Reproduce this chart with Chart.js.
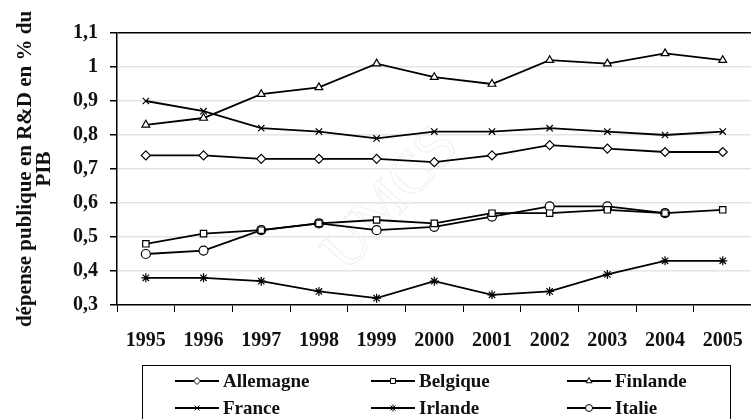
<!DOCTYPE html>
<html>
<head>
<meta charset="utf-8">
<script src="https://cdn.jsdelivr.net/npm/chart.js@4"></script>
<style>
  html, body { margin: 0; padding: 0; background: #fff; overflow: hidden; }
</style>
</head>
<body>
<canvas id="myChart" width="760" height="419"></canvas>
<script>
var years = ['1995', '1996', '1997', '1998', '1999', '2000', '2001', '2002', '2003', '2004', '2005'];
var allemagne = [0.74, 0.74, 0.73, 0.73, 0.73, 0.72, 0.74, 0.77, 0.76, 0.75, 0.75];
var belgique = [0.48, 0.51, 0.52, 0.54, 0.55, 0.54, 0.57, 0.57, 0.58, 0.57, 0.58];
var finlande = [0.83, 0.85, 0.92, 0.94, 1.01, 0.97, 0.95, 1.02, 1.01, 1.04, 1.02];
var france = [0.90, 0.87, 0.82, 0.81, 0.79, 0.81, 0.81, 0.82, 0.81, 0.80, 0.81];
var irlande = [0.38, 0.38, 0.37, 0.34, 0.32, 0.37, 0.33, 0.34, 0.39, 0.43, 0.43];
var italie = [0.45, 0.46, 0.52, 0.54, 0.52, 0.53, 0.56, 0.59, 0.59, 0.57, null];
var yTitle = ['dépense publique en R&D en % du', 'PIB'];

var serif = "'Liberation Serif', 'Times New Roman', serif";

function serie(label, data, style) {
    return {
        label: label,
        data: data,
        pointStyle: style,
        borderColor: '#000',
        borderWidth: 1.8,
        pointRadius: 4.5,
        pointBackgroundColor: '#fff',
        pointBorderColor: '#000',
        pointBorderWidth: 1.2,
        tension: 0,
        spanGaps: false
    };
}

// faint watermark behind the lines
var watermark = {
    id: 'watermark',
    beforeDatasetsDraw: function(chart) {
        var ctx = chart.ctx;
        ctx.save();
        ctx.translate(392, 200);
        ctx.rotate(-48 * Math.PI / 180);
        ctx.font = '60px ' + serif;
        ctx.textAlign = 'center';
        ctx.textBaseline = 'middle';
        ctx.strokeStyle = '#efefef';
        ctx.lineWidth = 1;
        ctx.strokeText('UMCS', 0, 0);
        ctx.restore();
    }
};

// legend in a box, 3 columns x 2 rows
var boxLegend = {
    id: 'boxLegend',
    afterDraw: function(chart) {
        var ctx = chart.ctx;
        var cols = [175, 371, 567], rows = [381, 408];
        ctx.save();
        ctx.strokeStyle = '#000';
        ctx.lineWidth = 1;
        ctx.strokeRect(142.5, 365.5, 588, 70);
        chart.data.datasets.forEach(function(ds, i) {
            var x = cols[i % 3], y = rows[Math.floor(i / 3)];
            ctx.strokeStyle = '#000';
            ctx.lineWidth = 1.8;
            ctx.beginPath();
            ctx.moveTo(x, y);
            ctx.lineTo(x + 44, y);
            ctx.stroke();
            ctx.fillStyle = '#fff';
            ctx.lineWidth = 1;
            Chart.helpers.drawPoint(ctx, {pointStyle: ds.pointStyle, radius: 3.5, borderWidth: 1, rotation: 0}, x + 22, y);
            ctx.fillStyle = '#111';
            ctx.font = 'bold 19px ' + serif;
            ctx.textBaseline = 'middle';
            ctx.textAlign = 'left';
            ctx.fillText(ds.label, x + 48, y + 1);
        });
        ctx.restore();
    }
};

var ctx = document.getElementById('myChart').getContext('2d');
var myChart = new Chart(ctx, {
    type: 'line',
    data: {
        labels: years,
        datasets: [
            serie('Allemagne', allemagne, 'rectRot'),
            serie('Belgique', belgique, 'rect'),
            serie('Finlande', finlande, 'triangle'),
            serie('France', france, 'crossRot'),
            serie('Irlande', irlande, 'star'),
            serie('Italie', italie, 'circle')
        ]
    },
    options: {
        responsive: false,
        animation: false,
        devicePixelRatio: 1,
        layout: {
            padding: {top: 33, right: 5, bottom: 0, left: 0}
        },
        plugins: {
            legend: {display: false},
            tooltip: {enabled: false}
        },
        scales: {
            x: {
                offset: true,
                grid: {
                    offset: true,
                    drawOnChartArea: false,
                    tickLength: 7,
                    tickColor: '#000'
                },
                border: {color: '#000', width: 1.5},
                ticks: {
                    color: '#111',
                    padding: 17,
                    maxRotation: 0,
                    autoSkip: false,
                    font: {family: serif, size: 20, weight: 'bold'}
                },
                afterFit: function(scale) { scale.height = 114; }
            },
            y: {
                min: 0.3,
                max: 1.1,
                ticks: {
                    stepSize: 0.1,
                    padding: 12,
                    color: '#111',
                    font: {family: serif, size: 20, weight: 'bold'},
                    callback: function(v) {
                        return String(Math.round(v * 10) / 10).replace('.', ',');
                    }
                },
                grid: {
                    color: function(c) {
                        return c.tick && Math.abs(c.tick.value - 1.1) < 1e-6 ? '#000' : '#e4e4e4';
                    },
                    lineWidth: 1.5,
                    tickLength: 7,
                    tickColor: '#000'
                },
                border: {color: '#000', width: 1.5},
                title: {
                    display: true,
                    text: yTitle,
                    color: '#111',
                    font: {family: serif, size: 21, weight: 'bold', lineHeight: 0.9},
                    padding: {top: 16, bottom: 0}
                },
                afterFit: function(scale) { scale.width = 117; }
            }
        }
    },
    plugins: [watermark, boxLegend]
});
</script>
</body>
</html>
